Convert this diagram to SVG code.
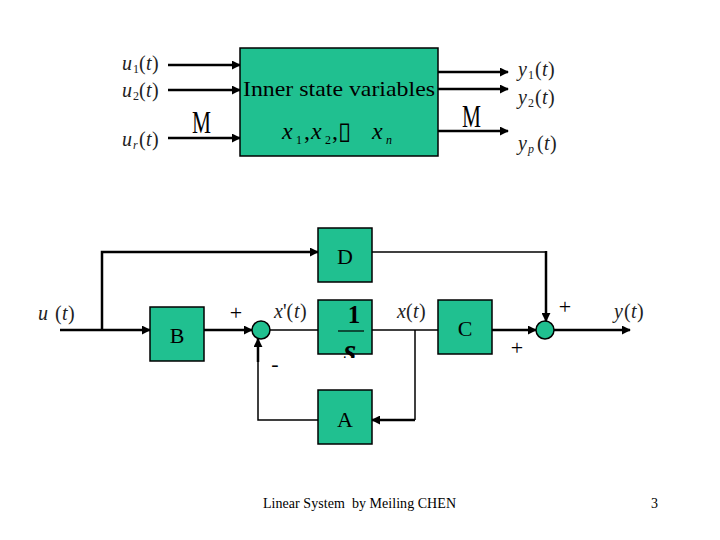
<svg xmlns="http://www.w3.org/2000/svg" width="720" height="540" viewBox="0 0 720 540">
<style>
.box{fill:#20C090;stroke:#000;stroke-width:1.5}
.sum{fill:#20C090;stroke:#000;stroke-width:1.5}
.w{fill:none;stroke:#000;stroke-width:2.5}
.t{fill:none;stroke:#000;stroke-width:1.5}
text{font-family:"Liberation Serif","Times New Roman",serif;fill:#000}
.lbl{font-size:20px;fill:#222}
.i{font-style:italic}
.sub{font-size:12px}
.big{font-size:22px}
</style>
<defs>
<marker id="ar" viewBox="0 0 10 10" refX="9" refY="5" markerWidth="3.6" markerHeight="3.6" markerUnits="strokeWidth" orient="auto">
<path d="M0,0 L10,5 L0,10 z" fill="#000"/>
</marker>
<clipPath id="cs"><rect x="318" y="300" width="54" height="58"/></clipPath>
</defs>
<rect width="720" height="540" fill="#fff"/>

<g id="connectors">
<line class="w" x1="168" y1="65" x2="240" y2="65" marker-end="url(#ar)"/>
<line class="w" x1="168" y1="90" x2="240" y2="90" marker-end="url(#ar)"/>
<line class="w" x1="168" y1="138" x2="240" y2="138" marker-end="url(#ar)"/>
<line class="w" x1="438" y1="72" x2="508" y2="72" marker-end="url(#ar)"/>
<line class="w" x1="438" y1="89" x2="508" y2="89" marker-end="url(#ar)"/>
<line class="w" x1="438" y1="131" x2="508" y2="131" marker-end="url(#ar)"/>

<line class="w" x1="60" y1="330" x2="150" y2="330" marker-end="url(#ar)"/>
<polyline class="w" points="102,330 102,252 318,252" marker-end="url(#ar)"/>
<line class="w" x1="204" y1="330" x2="252" y2="330" marker-end="url(#ar)"/>
<line class="t" x1="270" y1="330" x2="318" y2="330"/>
<line class="t" x1="372" y1="330" x2="438" y2="330"/>
<polyline class="t" points="415,330 415,420"/>
<polyline class="w" points="415,420 372,420" marker-end="url(#ar)"/>
<polyline class="t" points="318,420 258,420 258,360"/>
<line class="w" x1="258" y1="362" x2="258" y2="339" marker-end="url(#ar)"/>
<polyline class="t" points="372,252 546,252"/>
<line class="w" x1="546" y1="251" x2="546" y2="321" marker-end="url(#ar)"/>
<line class="w" x1="492" y1="330" x2="536" y2="330" marker-end="url(#ar)"/>
<line class="w" x1="554" y1="330" x2="630" y2="330" marker-end="url(#ar)"/>
</g>

<g id="system">
<rect class="box" x="240" y="48" width="198" height="108"/>
<text x="243" y="96" font-size="21" textLength="192" lengthAdjust="spacingAndGlyphs">Inner state variables</text>
<text font-size="24" fill="#222"><tspan x="282" y="139" class="i">x</tspan><tspan x="296" y="144" class="sub">1</tspan><tspan x="304" y="139">,</tspan><tspan x="311" y="139" class="i">x</tspan><tspan x="325" y="144" class="sub">2</tspan><tspan x="332" y="139">,▯</tspan><tspan x="372" y="139" class="i">x</tspan><tspan x="386" y="144" class="sub i">n</tspan></text>
</g>

<g id="input-labels">
<text class="lbl"><tspan x="122" y="70" class="i">u</tspan><tspan x="133" y="73" class="sub">1</tspan><tspan x="139" y="70">(</tspan><tspan x="146" y="70" class="i">t</tspan><tspan x="152" y="70">)</tspan></text>
<text class="lbl"><tspan x="122" y="97" class="i">u</tspan><tspan x="133" y="100" class="sub">2</tspan><tspan x="139" y="97">(</tspan><tspan x="146" y="97" class="i">t</tspan><tspan x="152" y="97">)</tspan></text>
<text class="lbl"><tspan x="122" y="146" class="i">u</tspan><tspan x="133" y="149" class="sub i">r</tspan><tspan x="139" y="146">(</tspan><tspan x="146" y="146" class="i">t</tspan><tspan x="152" y="146">)</tspan></text>
<text x="192" y="133" font-size="31" textLength="19" lengthAdjust="spacingAndGlyphs">M</text>
</g>

<g id="output-labels">
<text class="lbl"><tspan x="518" y="76" class="i">y</tspan><tspan x="528" y="79" class="sub">1</tspan><tspan x="535" y="76">(</tspan><tspan x="542" y="76" class="i">t</tspan><tspan x="548" y="76">)</tspan></text>
<text class="lbl"><tspan x="518" y="104" class="i">y</tspan><tspan x="528" y="107" class="sub">2</tspan><tspan x="535" y="104">(</tspan><tspan x="542" y="104" class="i">t</tspan><tspan x="548" y="104">)</tspan></text>
<text class="lbl"><tspan x="518" y="150" class="i">y</tspan><tspan x="528" y="153" class="sub i">p</tspan><tspan x="537" y="150">(</tspan><tspan x="544" y="150" class="i">t</tspan><tspan x="550" y="150">)</tspan></text>
<text x="462" y="127" font-size="31" textLength="19" lengthAdjust="spacingAndGlyphs">M</text>
</g>

<g id="D"><rect class="box" x="318" y="228" width="54" height="54"/><text x="345" y="264" class="big" text-anchor="middle">D</text></g>
<g id="B"><rect class="box" x="150" y="307" width="54" height="54"/><text x="177" y="343" class="big" text-anchor="middle">B</text></g>
<g id="integrator"><rect class="box" x="318" y="300" width="54" height="54"/>
<text x="354" y="323" font-size="25" font-weight="bold" text-anchor="middle">1</text>
<line x1="338" y1="331" x2="364" y2="331" stroke="#000" stroke-width="1.2"/>
<text x="350" y="361" font-size="32" font-weight="bold" font-style="italic" text-anchor="middle" clip-path="url(#cs)">s</text>
</g>
<g id="C"><rect class="box" x="438" y="300" width="54" height="54"/><text x="465" y="336" class="big" text-anchor="middle">C</text></g>
<g id="A"><rect class="box" x="318" y="390" width="54" height="54"/><text x="345" y="427" class="big" text-anchor="middle">A</text></g>
<g id="sum1"><circle class="sum" cx="261" cy="330" r="9"/></g>
<g id="sum2"><circle class="sum" cx="545" cy="330" r="9"/></g>

<g id="labels">
<text class="lbl"><tspan x="38" y="320" class="i">u</tspan><tspan x="55" y="320">(</tspan><tspan x="62" y="320" class="i">t</tspan><tspan x="68" y="320">)</tspan></text>
<text x="236" y="320" font-size="22" text-anchor="middle">+</text>
<text x="275" y="371" font-size="22" text-anchor="middle">-</text>
<text class="lbl"><tspan x="274" y="318" class="i">x</tspan><tspan x="283" y="318">'(</tspan><tspan x="294" y="318" class="i">t</tspan><tspan x="300" y="318">)</tspan></text>
<text class="lbl"><tspan x="397" y="318" class="i">x</tspan><tspan x="406" y="318">(</tspan><tspan x="413" y="318" class="i">t</tspan><tspan x="419" y="318">)</tspan></text>
<text class="lbl"><tspan x="614" y="318" class="i">y</tspan><tspan x="624" y="318">(</tspan><tspan x="631" y="318" class="i">t</tspan><tspan x="637" y="318">)</tspan></text>
<text x="565" y="314" font-size="22" text-anchor="middle">+</text>
<text x="517" y="355" font-size="22" text-anchor="middle">+</text>
</g>

<g id="footer">
<text x="263" y="508" font-size="14" textLength="193" lengthAdjust="spacing" xml:space="preserve">Linear System  by Meiling CHEN</text>
<text x="651" y="508" font-size="14">3</text>
</g>
</svg>
